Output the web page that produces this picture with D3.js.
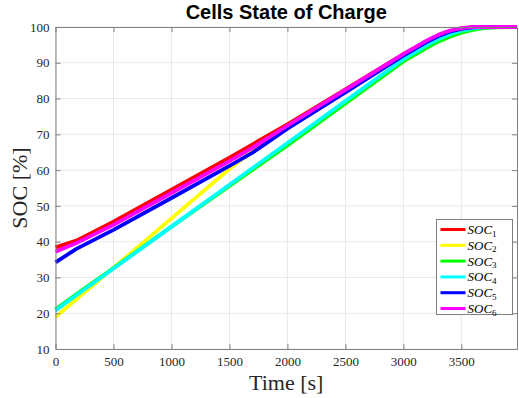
<!DOCTYPE html>
<html>
<head>
<meta charset="utf-8">
<script src="https://cdn.jsdelivr.net/npm/d3@7"></script>
<style>
  body { margin: 0; background: #fff; }
  svg { display: block; }
</style>
</head>
<body>
<div id="chart"></div>
<script>
// Tempo (s) comum a todas as séries
const time = [0, 180, 500, 1000, 1500, 1700, 2000, 2500, 3000, 3200, 3300, 3400, 3500, 3600, 3700, 3800, 3980];

// SOC (%) de cada célula
const soc1 = [38.4, 40.3, 45.6, 54.5, 63.5, 67.2, 72.8, 82.6, 92.4, 96.0, 97.6, 98.8, 99.5, 99.9, 100, 100, 100];
const soc2 = [18.9, 23.9, 32.7, 46.5, 60.3, 65.4, 72.3, 82.2, 92.0, 95.8, 97.4, 98.6, 99.4, 99.8, 100, 100, 100];
const soc3 = [21.1, 25.3, 32.6, 44.2, 55.6, 60.1, 66.9, 78.6, 90.4, 94.2, 95.9, 97.3, 98.4, 99.2, 99.7, 99.9, 100];
const soc4 = [20.8, 25.0, 32.5, 44.2, 55.9, 60.6, 67.6, 79.3, 91.0, 94.9, 96.6, 98.0, 99.0, 99.6, 99.9, 100, 100];
const soc5 = [34.2, 38.0, 43.3, 52.2, 61.2, 64.9, 71.6, 81.7, 92.0, 95.8, 97.4, 98.7, 99.5, 99.9, 100, 100, 100];
const soc6 = [37.2, 39.6, 44.7, 53.6, 62.5, 66.3, 72.4, 82.4, 92.4, 96.2, 97.8, 99.0, 99.7, 100, 100, 100, 100];

const seriesNames = ['1', '2', '3', '4', '5', '6'];
const seriesColors = ['#ff0000', '#ffff00', '#00ff00', '#00ffff', '#0000ff', '#ff00ff'];
const seriesValues = [soc1, soc2, soc3, soc4, soc5, soc6];

const xTicks = [0, 500, 1000, 1500, 2000, 2500, 3000, 3500];
const yTicks = [10, 20, 30, 40, 50, 60, 70, 80, 90, 100];

const width = 519, height = 398;
const margin = { top: 27, right: 2, bottom: 49, left: 55.5 };
const innerW = width - margin.left - margin.right;
const innerH = height - margin.top - margin.bottom;

const serif = "'Liberation Serif', 'DejaVu Serif', serif";
const axisColor = '#808080';
const textColor = '#262626';

const svg = d3.select('#chart').append('svg')
    .attr('width', width)
    .attr('height', height);

const x = d3.scaleLinear().domain([0, 3980]).range([0, innerW]);
const y = d3.scaleLinear().domain([10, 100]).range([innerH, 0]);

const g = svg.append('g')
    .attr('transform', `translate(${margin.left}, ${margin.top})`);

// Grade
g.append('g').selectAll('line')
    .data(xTicks)
    .enter().append('line')
    .attr('x1', d => x(d)).attr('x2', d => x(d))
    .attr('y1', 0).attr('y2', innerH)
    .attr('stroke', '#e8e8e8').attr('stroke-width', 1);

g.append('g').selectAll('line')
    .data(yTicks)
    .enter().append('line')
    .attr('x1', 0).attr('x2', innerW)
    .attr('y1', d => y(d)).attr('y2', d => y(d))
    .attr('stroke', '#e8e8e8').attr('stroke-width', 1);

// Linhas (uma por célula)
const line = d3.line()
    .x((d, i) => x(time[i]))
    .y(d => y(d));

seriesValues.forEach((vals, k) => {
    g.append('path')
        .datum(vals)
        .attr('d', line)
        .attr('fill', 'none')
        .attr('stroke', seriesColors[k])
        .attr('stroke-width', 3.8)
        .attr('stroke-linejoin', 'round');
});

// Eixos (caixa com ticks para dentro)
const styleAxis = sel => {
    sel.select('.domain').attr('stroke', axisColor);
    sel.selectAll('.tick line').attr('stroke', axisColor);
    sel.selectAll('.tick text')
        .attr('fill', textColor)
        .attr('font-family', serif)
        .attr('font-size', '13px');
};

g.append('g')
    .attr('transform', `translate(0, ${innerH})`)
    .call(d3.axisBottom(x).tickValues(xTicks).tickFormat(d3.format('d'))
        .tickSizeInner(-5).tickSizeOuter(0).tickPadding(8))
    .call(styleAxis);

g.append('g')
    .call(d3.axisTop(x).tickValues(xTicks).tickSizeInner(-5).tickSizeOuter(0).tickFormat(''))
    .call(styleAxis);

g.append('g')
    .call(d3.axisLeft(y).tickValues(yTicks).tickFormat(d3.format('d'))
        .tickSizeInner(-5).tickSizeOuter(0).tickPadding(6))
    .call(styleAxis);

g.append('g')
    .attr('transform', `translate(${innerW}, 0)`)
    .call(d3.axisRight(y).tickValues(yTicks).tickSizeInner(-5).tickSizeOuter(0).tickFormat(''))
    .call(styleAxis);

// Título e rótulos
svg.append('text')
    .attr('x', margin.left + innerW / 2)
    .attr('y', 19)
    .attr('text-anchor', 'middle')
    .attr('font-family', "'Liberation Sans', Arial, sans-serif")
    .attr('font-weight', 'bold')
    .attr('font-size', '20px')
    .attr('fill', '#000')
    .text('Cells State of Charge');

svg.append('text')
    .attr('x', margin.left + innerW / 2)
    .attr('y', 390)
    .attr('text-anchor', 'middle')
    .attr('font-family', serif)
    .attr('font-size', '22px')
    .attr('fill', textColor)
    .text('Time [s]');

svg.append('text')
    .attr('transform', `translate(27, ${margin.top + innerH / 2}) rotate(-90)`)
    .attr('text-anchor', 'middle')
    .attr('font-family', serif)
    .attr('font-size', '22px')
    .attr('fill', textColor)
    .text('SOC [%]');

// Legenda
const legend = svg.append('g').attr('transform', 'translate(436.5, 219.5)');
legend.append('rect')
    .attr('width', 76).attr('height', 95)
    .attr('fill', '#fff')
    .attr('stroke', axisColor).attr('stroke-width', 1);

seriesNames.forEach((name, k) => {
    const ly = 10 + k * 15.8;
    legend.append('line')
        .attr('x1', 4).attr('x2', 29)
        .attr('y1', ly).attr('y2', ly)
        .attr('stroke', seriesColors[k])
        .attr('stroke-width', 3);
    const t = legend.append('text')
        .attr('x', 31).attr('y', ly + 4.5)
        .attr('font-family', serif)
        .attr('font-size', '13px')
        .attr('fill', '#000');
    t.append('tspan').attr('font-style', 'italic').text('SOC');
    t.append('tspan').attr('font-size', '9px').attr('dy', 2.5).text(name);
});
</script>
</body>
</html>
